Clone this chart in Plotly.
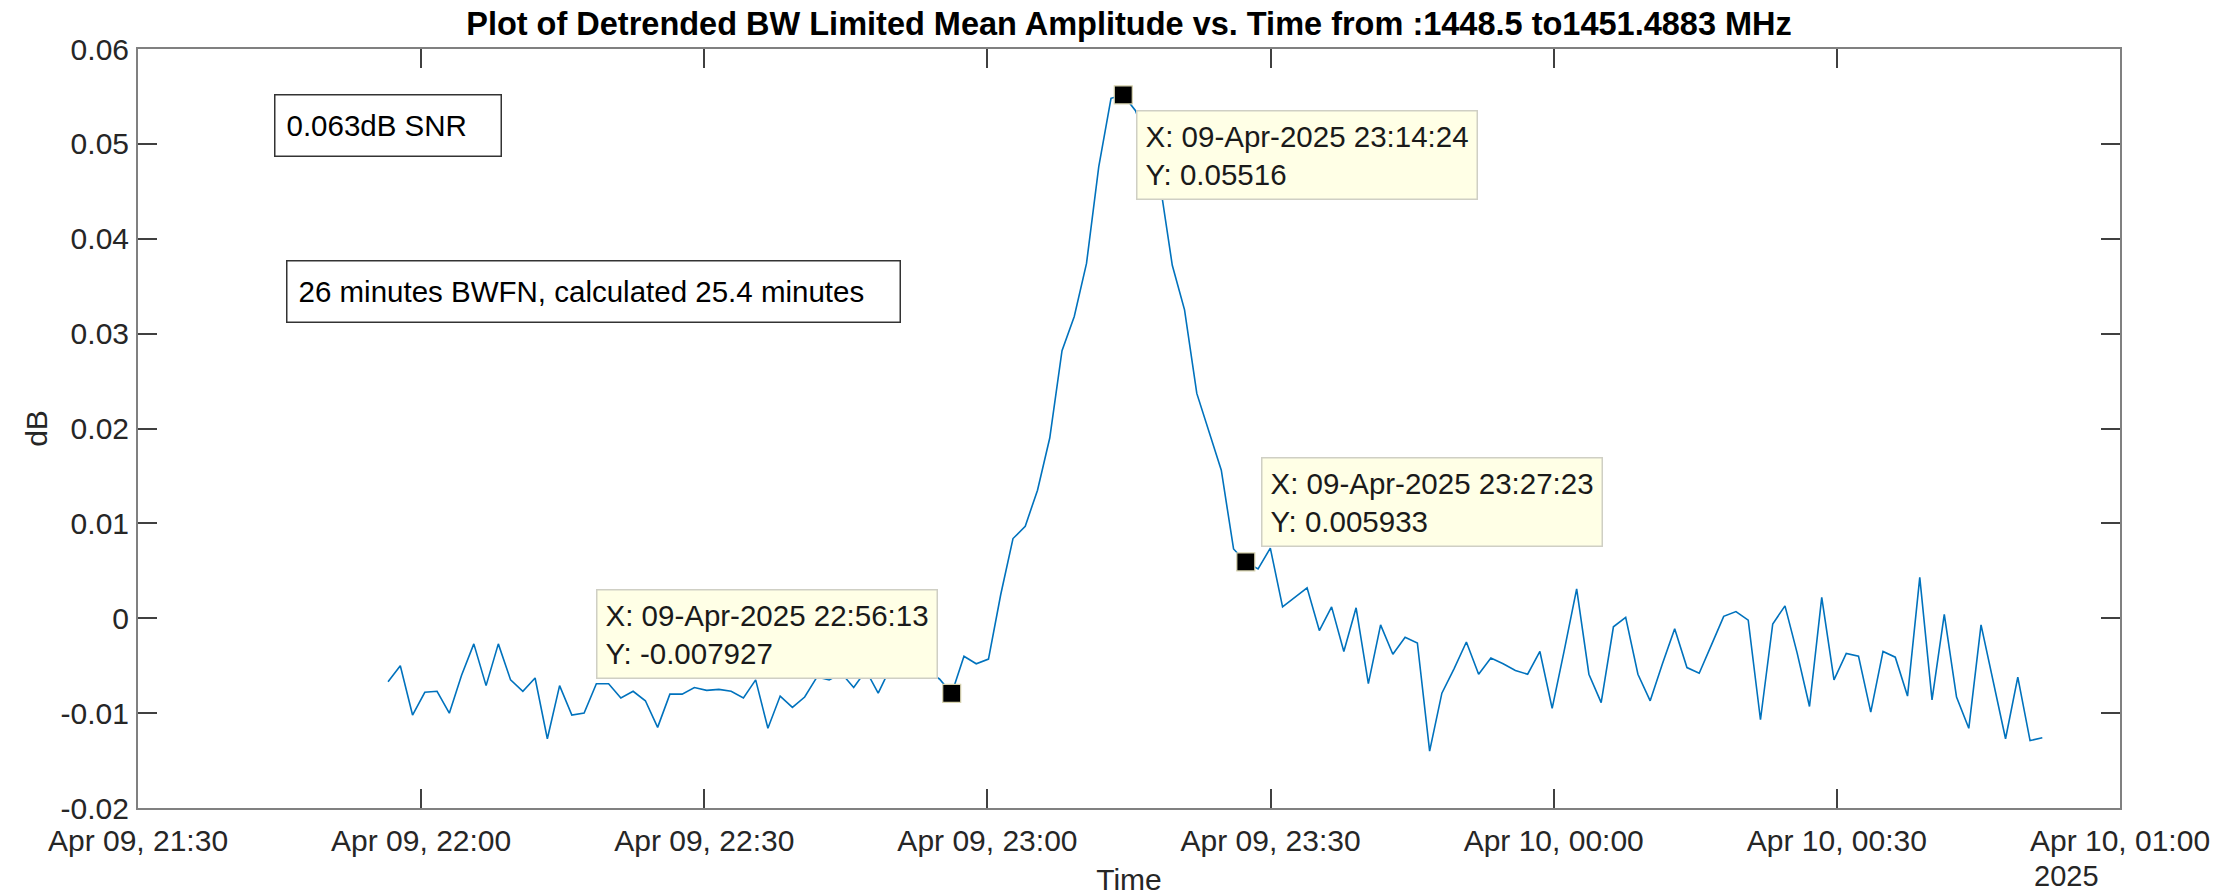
import pandas as pd
import plotly.graph_objects as go

# ---------------- data ----------------
start_time = "2025-04-09 21:56:29.6"
sample_interval_s = 77.9

amplitude_db = [
    -0.0067, -0.0050, -0.0102, -0.0078, -0.0077, -0.0100, -0.0060, -0.0027, -0.0071, -0.0027,
    -0.0065, -0.0077, -0.0063, -0.0127, -0.0071, -0.0102, -0.0100, -0.0069, -0.0069, -0.0084,
    -0.0077, -0.0087, -0.0115, -0.0080, -0.0080, -0.0073, -0.0076, -0.0075, -0.0077, -0.0084,
    -0.0065, -0.0116, -0.0082, -0.0094, -0.0083, -0.0062, -0.0065, -0.0058, -0.0073, -0.0055,
    -0.0079, -0.0052, -0.0060, -0.0047, -0.0056, -0.0064, -0.007927, -0.0040, -0.0048, -0.0043,
    0.0025, 0.0084, 0.0097, 0.0135, 0.0190, 0.0282, 0.0318, 0.0374, 0.0476, 0.0548,
    0.05516, 0.0535, 0.0500, 0.0458, 0.0372, 0.0325, 0.0237, 0.0196, 0.0156, 0.0073,
    0.005933, 0.0052, 0.0074, 0.0012, 0.0022, 0.0032, -0.0013, 0.0012, -0.0035, 0.0011,
    -0.0069, -0.0007, -0.0038, -0.0020, -0.0026, -0.0140, -0.0079, -0.0053, -0.0025, -0.0059,
    -0.0042, -0.0048, -0.0055, -0.0059, -0.0035, -0.0095, -0.0033, 0.0031, -0.0059, -0.0089,
    -0.0009, 0.0001, -0.0059, -0.0087, -0.0048, -0.0011, -0.0052, -0.0058, -0.0028, 0.0002,
    0.0007, -0.0002, -0.0107, -0.0006, 0.0013, -0.0037, -0.0093, 0.0022, -0.0065, -0.0037,
    -0.0040, -0.0099, -0.0035, -0.0041, -0.0082, 0.0043, -0.0086, 0.0004, -0.0083, -0.0116,
    -0.0007, -0.0068, -0.0127, -0.0062, -0.0129, -0.0126,
]

datatip_index = [46, 60, 70]
datatip_text = [
    "X: 09-Apr-2025 22:56:13<br>Y: -0.007927",
    "X: 09-Apr-2025 23:14:24<br>Y: 0.05516",
    "X: 09-Apr-2025 23:27:23<br>Y: 0.005933",
]

x_tick_vals = ["2025-04-09 21:30", "2025-04-09 22:00", "2025-04-09 22:30", "2025-04-09 23:00",
               "2025-04-09 23:30", "2025-04-10 00:00", "2025-04-10 00:30", "2025-04-10 01:00"]
x_tick_text = ["Apr 09, 21:30", "Apr 09, 22:00", "Apr 09, 22:30", "Apr 09, 23:00",
               "Apr 09, 23:30", "Apr 10, 00:00", "Apr 10, 00:30", "Apr 10, 01:00"]
y_tick_vals = [-0.02, -0.01, 0, 0.01, 0.02, 0.03, 0.04, 0.05, 0.06]
y_tick_text = ["-0.02", "-0.01", "0", "0.01", "0.02", "0.03", "0.04", "0.05", "0.06"]

title_text = "Plot of Detrended BW Limited Mean Amplitude vs. Time from :1448.5 to1451.4883 MHz"
snr_text = "0.063dB SNR"
bwfn_text = "26 minutes BWFN, calculated 25.4 minutes"
year_text = "2025"

# ---------------- figure ----------------
times = pd.date_range(start=start_time, periods=len(amplitude_db),
                      freq=pd.Timedelta(seconds=sample_interval_s))

FONT = "Liberation Sans, Arial, Helvetica, sans-serif"
BLUE = "#0072BD"
AX = "#808080"
TXT = "#262626"
W, H = 2236, 896
L, R, T, B = 138, 116, 49, 88
PW, PH = W - L - R, H - T - B

fig = go.Figure()
fig.add_trace(go.Scatter(x=times, y=amplitude_db, mode="lines",
                         line=dict(color=BLUE, width=1.6), showlegend=False))

tip_x = [times[i] for i in datatip_index]
tip_y = [amplitude_db[i] for i in datatip_index]
fig.add_trace(go.Scatter(x=tip_x, y=tip_y, mode="markers", showlegend=False,
                         marker=dict(symbol="square", size=18, color="black",
                                     line=dict(color="#d8d4b0", width=1.2))))

# datatip boxes: (xanchor, yanchor, xshift, yshift)
tip_place = [("right", "bottom", -14, 14), ("left", "top", 13, -15), ("left", "bottom", 15, 15)]
for (xt, yt, txt, (xa, ya, xs, ys)) in zip(tip_x, tip_y, datatip_text, tip_place):
    fig.add_annotation(x=xt, y=yt, xref="x", yref="y", text=txt, showarrow=False,
                       xanchor=xa, yanchor=ya, xshift=xs, yshift=ys, align="left",
                       font=dict(family=FONT, size=29.5, color="#1a1a1a"),
                       bgcolor="#FFFFE6", bordercolor="#cfcfc4", borderwidth=1.5, borderpad=8)

# text boxes
fig.add_annotation(x=(273.5 - L) / PW, y=(H - B - 94) / PH, xref="paper", yref="paper",
                   xanchor="left", yanchor="top", text=snr_text, showarrow=False,
                   width=203, height=38, align="left", valign="middle",
                   font=dict(family=FONT, size=29.5, color="black"),
                   bgcolor="white", bordercolor="#333333", borderwidth=1.5, borderpad=11)
fig.add_annotation(x=(286 - L) / PW, y=(H - B - 260) / PH, xref="paper", yref="paper",
                   xanchor="left", yanchor="top", text=bwfn_text, showarrow=False,
                   width=590, height=38, align="left", valign="middle",
                   font=dict(family=FONT, size=29.5, color="black"),
                   bgcolor="white", bordercolor="#333333", borderwidth=1.5, borderpad=11)

# year label under last tick
fig.add_annotation(x=x_tick_vals[-1], y=0, xref="x", yref="paper", yanchor="top",
                   xanchor="left", xshift=-88, yshift=-50, text=year_text, showarrow=False,
                   font=dict(family=FONT, size=29, color=TXT))

fig.update_layout(
    width=W, height=H,
    margin=dict(l=L, r=R, t=T, b=B, autoexpand=False),
    paper_bgcolor="white", plot_bgcolor="white",
    font=dict(family=FONT, size=30, color=TXT),
    title=dict(text="<b>" + title_text + "</b>", x=(L + L + PW) / 2 / W, xanchor="center",
               y=1 - 24 / H, yanchor="middle",
               font=dict(family=FONT, size=32.5, color="black")),
)
fig.update_xaxes(
    type="date", range=[x_tick_vals[0], x_tick_vals[-1]],
    tickmode="array", tickvals=x_tick_vals, ticktext=x_tick_text,
    showline=True, linecolor=AX, linewidth=2, mirror="ticks",
    ticks="inside", ticklen=19, tickwidth=1.5, tickcolor="#404040",
    showgrid=False, zeroline=False, ticklabelstandoff=5,
    title=dict(text="Time", standoff=13, font=dict(family=FONT, size=30, color=TXT)),
)
fig.update_yaxes(
    range=[-0.02, 0.06], tickmode="array", tickvals=y_tick_vals, ticktext=y_tick_text,
    showline=True, linecolor=AX, linewidth=2, mirror="ticks",
    ticks="inside", ticklen=19, tickwidth=1.5, tickcolor="#404040",
    showgrid=False, zeroline=False, ticklabelstandoff=1,
    title=dict(text="dB", standoff=4, font=dict(family=FONT, size=30, color=TXT)),
)

fig.write_html("out.html", config={"displayModeBar": False},
               post_script="document.body.style.margin='0';document.body.style.overflow='hidden';")
